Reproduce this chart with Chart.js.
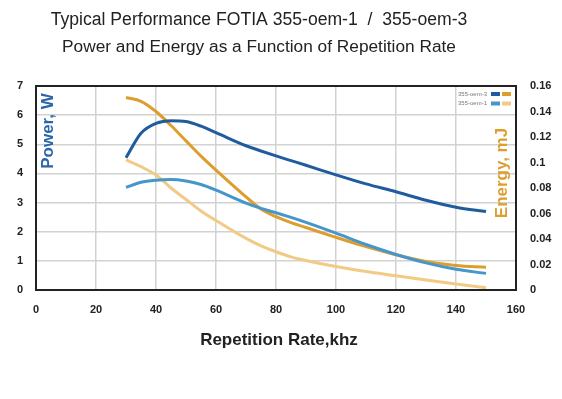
<!DOCTYPE html>
<html>
<head>
<meta charset="utf-8">
<script src="https://cdn.jsdelivr.net/npm/chart.js@4/dist/chart.umd.min.js"></script>
<style>
  html, body { margin: 0; padding: 0; background: #fff; }
  #wrap { width: 562px; height: 399px; }
</style>
</head>
<body>
<div id="wrap"><canvas id="perf_chart" width="562" height="399"></canvas></div>
<script>
// repetition rate, kHz
var rates = [30, 35, 40, 45, 50, 55, 60, 70, 75, 80, 85, 90, 100, 110, 120, 130, 140, 150];
// power, W
var powerOem3 = [4.54, 5.38, 5.72, 5.81, 5.78, 5.62, 5.40, 4.95, 4.77, 4.60, 4.44, 4.28, 3.95, 3.64, 3.37, 3.08, 2.84, 2.69];
var powerOem1 = [3.52, 3.70, 3.77, 3.79, 3.74, 3.62, 3.43, 2.98, 2.80, 2.65, 2.49, 2.32, 1.95, 1.56, 1.22, 0.93, 0.71, 0.57];
// energy, mJ
var energyOem3 = [0.151, 0.148, 0.140, 0.129, 0.117, 0.105, 0.094, 0.073, 0.0635, 0.0575, 0.0528, 0.049, 0.0413, 0.034, 0.0276, 0.0224, 0.0192, 0.0178];
var energyOem1 = [0.102, 0.0967, 0.0902, 0.080, 0.071, 0.062, 0.0545, 0.0405, 0.0347, 0.030, 0.026, 0.0232, 0.0185, 0.0145, 0.0112, 0.0078, 0.0047, 0.0018];

var titleLines = ['Typical Performance FOTIA 355-oem-1  /  355-oem-3', 'Power and Energy as a Function of Repetition Rate'];
var xTitle = 'Repetition Rate,khz';
var powerTitle = 'Power, W';
var energyTitle = 'Energy, mJ';
var legendNames = ['355-oem-3', '355-oem-1'];

var DARK_BLUE = 'rgb(31,92,158)';
var MID_BLUE = 'rgb(70,150,203)';
var DARK_ORANGE = 'rgb(221,158,46)';
var LIGHT_ORANGE = 'rgb(241,203,133)';

function pts(xs, ys) {
    var out = [];
    for (var i = 0; i < xs.length; ++i) out.push({x: xs[i], y: ys[i]});
    return out;
}

// texts, legend and frame drawn on top of the chart area
var extras = {
    id: 'extras',
    afterDraw: function(chart) {
        var ctx = chart.ctx;
        var a = chart.chartArea;
        ctx.save();
        ctx.fillStyle = '#222';
        ctx.textAlign = 'center';
        ctx.textBaseline = 'middle';
        ctx.font = '17.6px "Liberation Sans", Arial, sans-serif';
        ctx.fillText(titleLines[0], 259, 20);
        ctx.font = '17.3px "Liberation Sans", Arial, sans-serif';
        ctx.fillText(titleLines[1], 259, 47);

        ctx.font = 'bold 17px "Liberation Sans", Arial, sans-serif';
        ctx.fillText(xTitle, 279, 340);

        ctx.save();
        ctx.translate(48, 131);
        ctx.rotate(-Math.PI / 2);
        ctx.fillStyle = 'rgb(42,102,168)';
        ctx.fillText(powerTitle, 0, 0);
        ctx.restore();

        ctx.save();
        ctx.translate(502, 173);
        ctx.rotate(-Math.PI / 2);
        ctx.fillStyle = DARK_ORANGE;
        ctx.fillText(energyTitle, 0, 0);
        ctx.restore();

        // legend
        var sw = [[DARK_BLUE, DARK_ORANGE], [MID_BLUE, LIGHT_ORANGE]];
        ctx.font = '6px "Liberation Sans", Arial, sans-serif';
        ctx.textAlign = 'left';
        for (var i = 0; i < legendNames.length; ++i) {
            var yy = 94 + i * 9.5;
            ctx.fillStyle = '#777';
            ctx.fillText(legendNames[i], 458, yy);
            ctx.fillStyle = sw[i][0];
            ctx.fillRect(491, yy - 2, 9, 4);
            ctx.fillStyle = sw[i][1];
            ctx.fillRect(502, yy - 2, 9, 4);
        }

        // frame
        ctx.strokeStyle = '#222';
        ctx.lineWidth = 2;
        ctx.strokeRect(a.left, a.top, a.right - a.left, a.bottom - a.top);
        ctx.restore();
    }
};

var ctx = document.getElementById('perf_chart').getContext('2d');
var tickFont = {family: '"Liberation Sans", Arial, sans-serif', size: 11, weight: 'bold'};

var chart = new Chart(ctx, {
    type: 'line',
    data: {
        datasets: [
            {label: '355-oem-3 power', data: pts(rates, powerOem3), borderColor: DARK_BLUE, yAxisID: 'y'},
            {label: '355-oem-1 power', data: pts(rates, powerOem1), borderColor: MID_BLUE, yAxisID: 'y'},
            {label: '355-oem-3 energy', data: pts(rates, energyOem3), borderColor: DARK_ORANGE, yAxisID: 'y2'},
            {label: '355-oem-1 energy', data: pts(rates, energyOem1), borderColor: LIGHT_ORANGE, yAxisID: 'y2'}
        ]
    },
    options: {
        responsive: false,
        animation: false,
        layout: {padding: {top: 86, left: 0, right: 0, bottom: 0}},
        elements: {
            point: {radius: 0},
            line: {borderWidth: 3, cubicInterpolationMode: 'monotone', fill: false}
        },
        plugins: {
            legend: {display: false},
            title: {display: false},
            tooltip: {enabled: false}
        },
        scales: {
            x: {
                type: 'linear',
                min: 0, max: 160,
                afterFit: function(s) { s.height = 109; },
                ticks: {stepSize: 20, color: '#222', font: tickFont, padding: 13},
                grid: {color: '#d2d2d2', lineWidth: 1.5, drawTicks: false},
                border: {display: false}
            },
            y: {
                position: 'left',
                min: 0, max: 7,
                afterFit: function(s) { s.width = 36; },
                ticks: {stepSize: 1, color: '#222', font: tickFont, padding: 13},
                grid: {color: '#d2d2d2', lineWidth: 1.5, drawTicks: false},
                border: {display: false}
            },
            y2: {
                position: 'right',
                min: 0, max: 0.16,
                afterFit: function(s) { s.width = 46; },
                ticks: {
                    stepSize: 0.02, color: '#222', font: tickFont, padding: 14,
                    callback: function(v) { return String(Number(v.toFixed(2))); }
                },
                grid: {display: false, drawTicks: false},
                border: {display: false}
            }
        }
    },
    plugins: [extras]
});
</script>
</body>
</html>
